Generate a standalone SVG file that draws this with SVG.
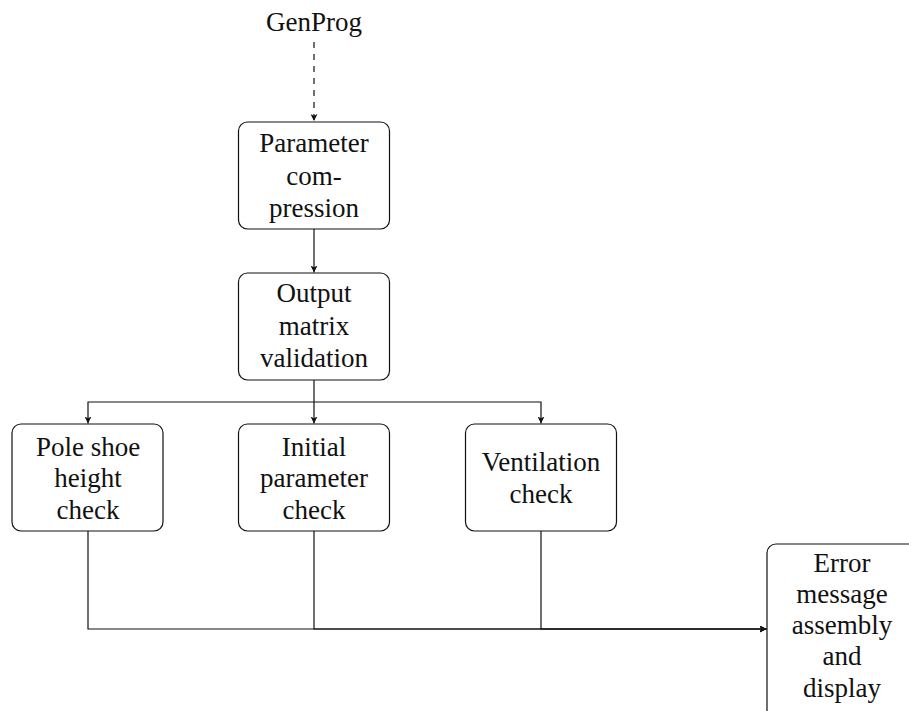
<svg xmlns="http://www.w3.org/2000/svg" width="909" height="711" viewBox="0 0 909 711">
<defs>
<style>
.box{fill:#fff;stroke:#111;stroke-width:1.2}
.t{font-family:"Liberation Serif","Times New Roman",serif;font-size:27px;fill:#111;text-anchor:middle}
.c{fill:none;stroke:#111;stroke-width:1.2}
.d{stroke-dasharray:6 6}
</style>
<marker id="ah" viewBox="0 0 10 10" refX="10" refY="5" markerWidth="7" markerHeight="7" markerUnits="userSpaceOnUse" orient="auto">
<path d="M0,0 L10,5 L0,10 L2.5,5 Z" fill="#111"/>
</marker>
</defs>
<rect width="909" height="711" fill="#fff"/>
<g id="connectors">
<path class="c d" d="M314,42 L314,121" marker-end="url(#ah)"/>
<path class="c" d="M314,229 L314,272.5" marker-end="url(#ah)"/>
<path class="c" d="M314,380 L314,423.5" marker-end="url(#ah)"/>
<path class="c" d="M314,402 L88,402 L88,423.5" marker-end="url(#ah)"/>
<path class="c" d="M314,402 L541,402 L541,423.5" marker-end="url(#ah)"/>
<path class="c" d="M88,531 L88,629 L766.5,629" marker-end="url(#ah)"/>
<path class="c" d="M314,531 L314,629 L766.5,629" marker-end="url(#ah)"/>
<path class="c" d="M541,531 L541,629 L766.5,629" marker-end="url(#ah)"/>
</g>
<g id="genprog">
<text class="t" x="314" y="31">GenProg</text>
</g>
<g id="param">
<rect class="box" x="238.5" y="122" width="151" height="107" rx="9"/>
<text class="t" x="314" y="152">Parameter</text>
<text class="t" x="314" y="185">com-</text>
<text class="t" x="314" y="217">pression</text>
</g>
<g id="output">
<rect class="box" x="238.5" y="273" width="151" height="107" rx="9"/>
<text class="t" x="314" y="302">Output</text>
<text class="t" x="314" y="335">matrix</text>
<text class="t" x="314" y="367">validation</text>
</g>
<g id="poleshoe">
<rect class="box" x="12" y="424" width="151" height="107" rx="9"/>
<text class="t" x="88" y="456">Pole shoe</text>
<text class="t" x="88" y="487">height</text>
<text class="t" x="88" y="519">check</text>
</g>
<g id="initial">
<rect class="box" x="238.5" y="424" width="151" height="107" rx="9"/>
<text class="t" x="314" y="456">Initial</text>
<text class="t" x="314" y="487">parameter</text>
<text class="t" x="314" y="519">check</text>
</g>
<g id="ventilation">
<rect class="box" x="465.5" y="424" width="151" height="107" rx="9"/>
<text class="t" x="541" y="471">Ventilation</text>
<text class="t" x="541" y="503">check</text>
</g>
<g id="error">
<rect class="box" x="767" y="544" width="151" height="180" rx="9"/>
<text class="t" x="842" y="572">Error</text>
<text class="t" x="842" y="603">message</text>
<text class="t" x="842" y="634">assembly</text>
<text class="t" x="842" y="665">and</text>
<text class="t" x="842" y="697">display</text>
</g>
</svg>
